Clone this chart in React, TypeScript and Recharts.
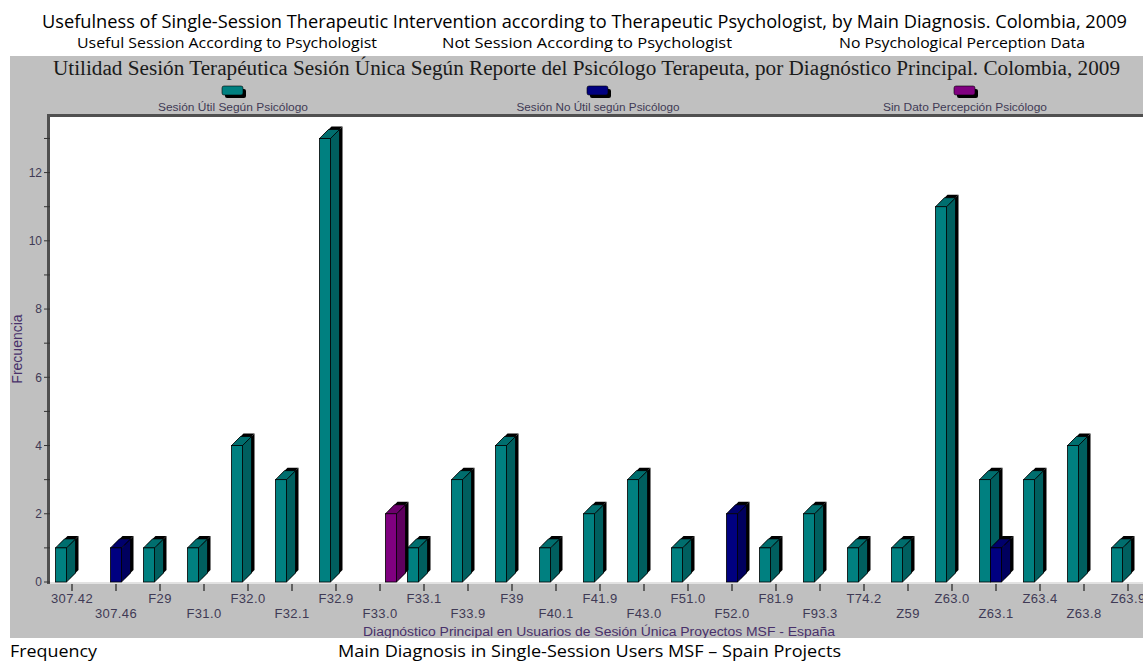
import React from 'react';
import { BarChart, Bar, XAxis, YAxis } from 'recharts';

const categories = ['307.42', '307.46', 'F29', 'F31.0', 'F32.0', 'F32.1', 'F32.9', 'F33.0', 'F33.1', 'F33.9', 'F39', 'F40.1', 'F41.9', 'F43.0', 'F51.0', 'F52.0', 'F81.9', 'F93.3', 'T74.2', 'Z59', 'Z63.0', 'Z63.1', 'Z63.4', 'Z63.8', 'Z63.9'];
const usefulValues = [1, 0, 1, 1, 4, 3, 13, 0, 1, 3, 4, 1, 2, 3, 1, 0, 1, 2, 1, 1, 11, 3, 3, 4, 1];
const notUsefulValues = [0, 1, 0, 0, 0, 0, 0, 0, 0, 0, 0, 0, 0, 0, 0, 2, 0, 0, 0, 0, 0, 1, 0, 0, 0];
const noDataValues = [0, 0, 0, 0, 0, 0, 0, 2, 0, 0, 0, 0, 0, 0, 0, 0, 0, 0, 0, 0, 0, 0, 0, 0, 0];
const yTicks = [0, 1, 2, 3, 4, 5, 6, 7, 8, 9, 10, 11, 12, 13];

const seriesNames = ['Sesión Útil Según Psicólogo', 'Sesión No Útil según Psicólogo', 'Sin Dato Percepción Psicólogo'];
const englishSeries = ['Useful Session According to Psychologist', 'Not Session According to Psychologist', 'No Psychological Perception Data'];
const englishTitle = 'Usefulness of Single-Session Therapeutic Intervention according to Therapeutic Psychologist, by Main Diagnosis.  Colombia, 2009';
const spanishTitle = 'Utilidad Sesión Terapéutica Sesión Única Según Reporte del Psicólogo Terapeuta, por Diagnóstico Principal. Colombia, 2009';
const spanishXTitle = 'Diagnóstico Principal en Usuarios de Sesión Única Proyectos MSF - España';
const spanishYTitle = 'Frecuencia';
const englishYTitle = 'Frequency';
const englishXTitle = 'Main Diagnosis in Single-Session Users MSF – Spain Projects';

const data = categories.map((c, i) => ({
  name: c,
  useful: usefulValues[i],
  notUseful: notUsefulValues[i],
  noData: noDataValues[i],
}));

const PALETTE = [
  { front: '#008080', side: '#005f5f', top: '#006e6e' },
  { front: '#000080', side: '#00005e', top: '#00006c' },
  { front: '#800080', side: '#5e005e', top: '#6c006c' },
];

const DEPTH = 9;
const SH = 3;

const makeShape = (c: { front: string; side: string; top: string }) => (props: any) => {
  const { x, y, width, height } = props;
  if (!height || height <= 0) return <g />;
  const w = width;
  const d = DEPTH;
  const b = y + height;
  const side = (ox: number, oy: number) =>
    `${x + w + ox},${y + oy} ${x + w + d + ox},${y - d + oy} ${x + w + d + ox},${b - d + oy} ${x + w + ox},${b + oy}`;
  const top = (ox: number, oy: number) =>
    `${x + ox},${y + oy} ${x + d + ox},${y - d + oy} ${x + w + d + ox},${y - d + oy} ${x + w + ox},${y + oy}`;
  return (
    <g>
      <polygon points={side(SH, -SH)} fill="#000" />
      <polygon points={top(SH, -SH)} fill="#000" />
      <polygon points={side(0, 0)} fill={c.side} stroke="#000" strokeWidth={0.8} />
      <polygon points={top(0, 0)} fill={c.top} stroke="#000" strokeWidth={0.8} />
      <rect x={x} y={y} width={w} height={height} fill={c.front} stroke="#000" strokeWidth={0.8} />
    </g>
  );
};

const XTick = (props: any) => {
  const { x, payload, index } = props;
  const row = index % 2;
  return (
    <g>
      <line x1={x} x2={x} y1={584} y2={591} stroke="#000" strokeWidth={1} />
      <text x={x} y={row ? 618 : 603} textAnchor="middle" fontFamily="'Liberation Sans', Arial, sans-serif" fontSize={13} fill="#3f3a55" letterSpacing={0.4}>
        {payload.value}
      </text>
    </g>
  );
};

const legendPos = [233, 598, 965];
const legendWidths = [150, 163, 164];

const Background = () => (
  <svg width={1143} height={662} style={{ position: 'absolute', left: 0, top: 0 }}>
    <rect x={0} y={0} width={1143} height={662} fill="#ffffff" />
    <text x={42} y={28} fontFamily="'Open Sans', 'Noto Sans', sans-serif" fontSize={18} fill="#000" textLength={1085} lengthAdjust="spacingAndGlyphs">{englishTitle}</text>
    <text x={77} y={48} fontFamily="'Open Sans', 'Noto Sans', sans-serif" fontSize={14} fill="#000" textLength={300} lengthAdjust="spacingAndGlyphs">{englishSeries[0]}</text>
    <text x={442} y={48} fontFamily="'Open Sans', 'Noto Sans', sans-serif" fontSize={14} fill="#000" textLength={290} lengthAdjust="spacingAndGlyphs">{englishSeries[1]}</text>
    <text x={839} y={48} fontFamily="'Open Sans', 'Noto Sans', sans-serif" fontSize={14} fill="#000" textLength={246} lengthAdjust="spacingAndGlyphs">{englishSeries[2]}</text>
    <rect x={10} y={56} width={1133} height={582} fill="#c0c0c0" />
    <text x={53} y={75} fontFamily="'Liberation Serif', 'Times New Roman', serif" fontSize={20} fill="#1a1a1a" textLength={1067} lengthAdjust="spacingAndGlyphs">{spanishTitle}</text>
    {legendPos.map((cx, i) => (
      <g key={i}>
        <rect x={cx - 8} y={89} width={21} height={9} rx={2} fill="#000" />
        <rect x={cx - 11} y={86} width={21} height={9} rx={2} fill={PALETTE[i].front} stroke="#000" strokeWidth={0.6} />
        <text x={cx - legendWidths[i] / 2} y={111} fontFamily="'Liberation Sans', Arial, sans-serif" fontSize={10} fill="#3f3a55" textLength={legendWidths[i]} lengthAdjust="spacingAndGlyphs">{seriesNames[i]}</text>
      </g>
    ))}
    <rect x={50} y={117} width={1093} height={465} fill="#ffffff" />
    <rect x={50} y={582} width={1093} height={2} fill="#e2e2e2" />
    <rect x={47} y={114} width={1096} height={3} fill="#505050" />
    <rect x={47} y={114} width={3} height={470} fill="#505050" />
    <text x={363} y={636} fontFamily="'Liberation Sans', Arial, sans-serif" fontSize={12} fill="#48306a" textLength={472} lengthAdjust="spacingAndGlyphs">{spanishXTitle}</text>
    <text transform="translate(22,349) rotate(-90)" textAnchor="middle" fontFamily="'Liberation Sans', Arial, sans-serif" fontSize={14} fill="#48306a">{spanishYTitle}</text>
    <rect x={0} y={638} width={1143} height={24} fill="#ffffff" />
    <text x={10} y={657} fontFamily="'Open Sans', 'Noto Sans', sans-serif" fontSize={17} fill="#000" textLength={87} lengthAdjust="spacingAndGlyphs">{englishYTitle}</text>
    <text x={338} y={657} fontFamily="'Open Sans', 'Noto Sans', sans-serif" fontSize={17} fill="#000" textLength={503} lengthAdjust="spacingAndGlyphs">{englishXTitle}</text>
  </svg>
);

export default function App() {
  return (
    <div style={{ position: 'absolute', left: 0, top: 0, width: 1143, height: 662, overflow: 'hidden', background: '#fff' }}>
      <Background />
      <div style={{ position: 'absolute', left: 0, top: 0 }}>
        <BarChart
          width={1200}
          height={662}
          data={data}
          margin={{ top: 118, right: 50, bottom: 0, left: 10 }}
          barCategoryGap="12.5%"
          barGap={0}
        >
          <XAxis dataKey="name" height={80} axisLine={false} tickLine={false} interval={0} tick={<XTick />} />
          <YAxis
            width={40}
            domain={[0, 13.6]}
            ticks={yTicks}
            interval={0}
            axisLine={false}
            tickLine={{ stroke: '#333' }}
            tickSize={6}
            tickFormatter={(v: number) => (v % 2 === 0 ? String(v) : '')}
            tick={{ fill: '#3f3a55', fontSize: 12, fontFamily: "'Liberation Sans', Arial, sans-serif" }}
          />
          <Bar dataKey="useful" isAnimationActive={false} shape={makeShape(PALETTE[0])} />
          <Bar dataKey="notUseful" isAnimationActive={false} shape={makeShape(PALETTE[1])} />
          <Bar dataKey="noData" isAnimationActive={false} shape={makeShape(PALETTE[2])} />
        </BarChart>
      </div>
    </div>
  );
}
